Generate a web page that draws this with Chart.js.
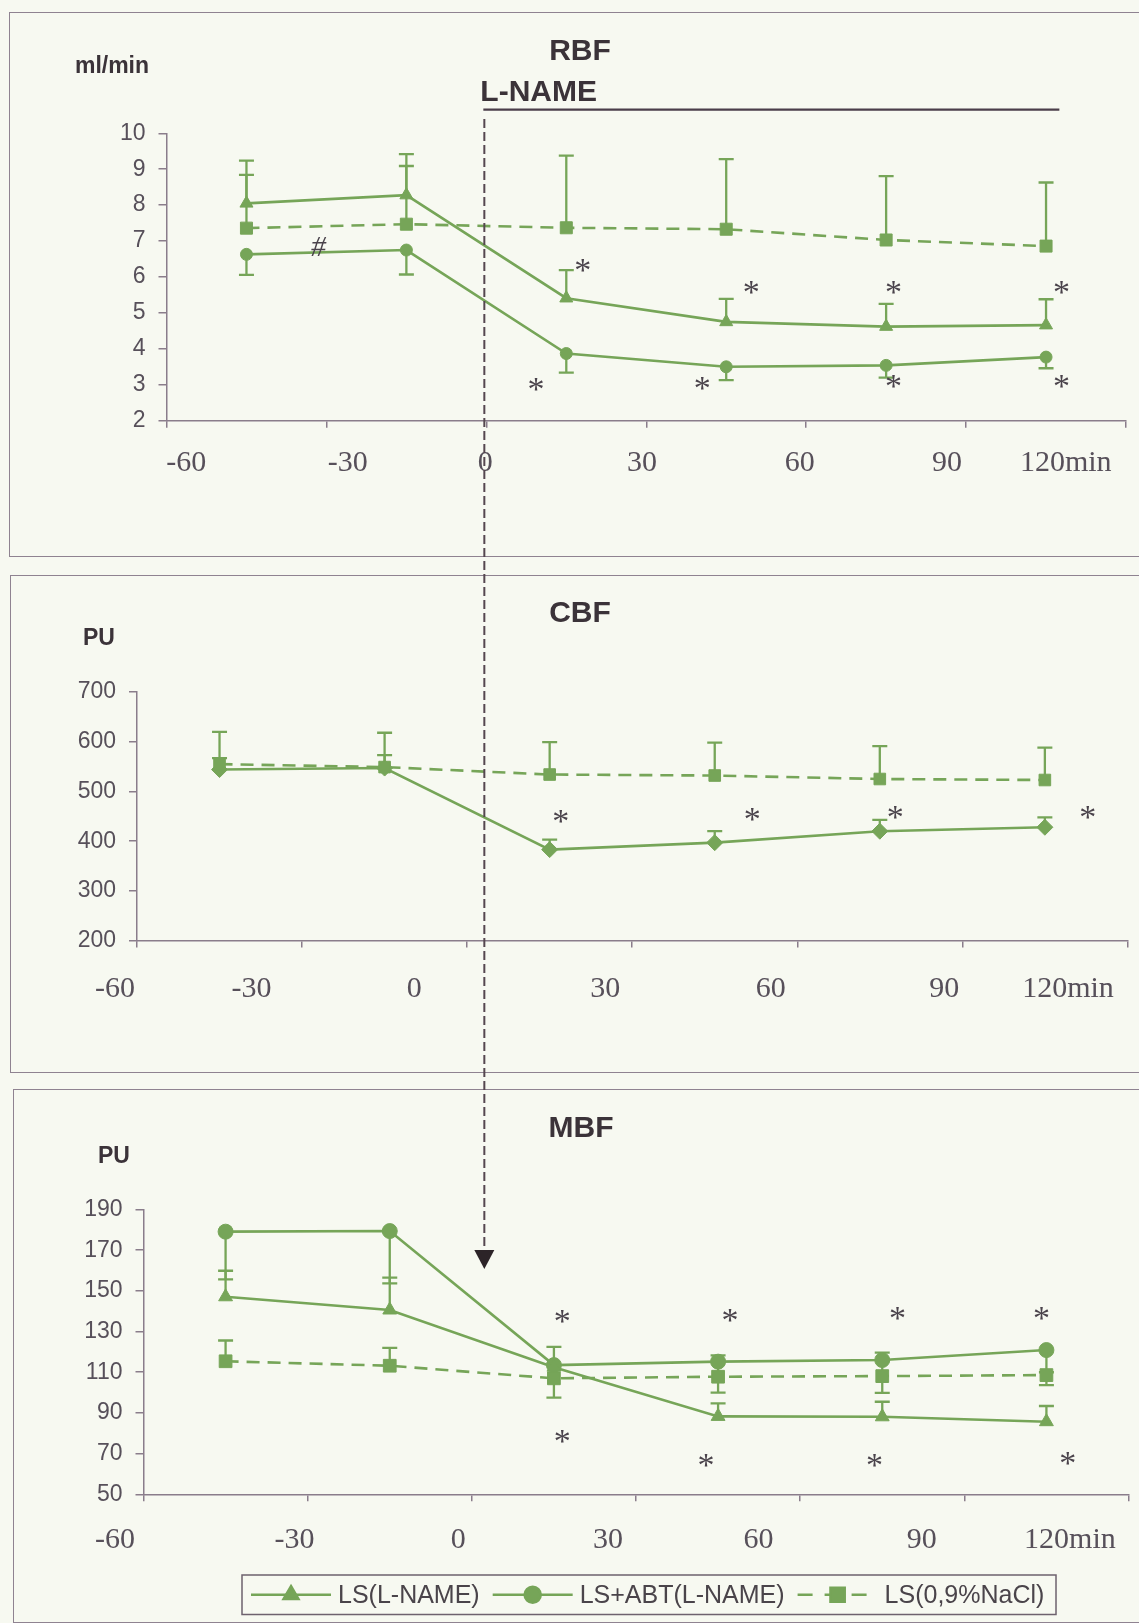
<!DOCTYPE html>
<html>
<head>
<meta charset="utf-8">
<script src="https://cdn.jsdelivr.net/npm/chart.js@4.4.1/dist/chart.umd.min.js"></script>
<style>
  html, body { margin: 0; padding: 0; background: #f7f9f1; }
  #page { position: relative; width: 1139px; height: 1623px; overflow: hidden; background: #f7f9f1; }
  .box { position: absolute; border: 1.5px solid #8f8391; box-sizing: border-box; width: 1200px; }
  canvas { position: absolute; left: 0; }
  .lbl { position: absolute; font-family: "Liberation Sans", Arial, sans-serif; font-weight: bold;
         color: #3b3339; white-space: nowrap; transform: translate(-50%, -50%); line-height: 1; }
</style>
</head>
<body>
<div id="page">
  <div class="box" style="left:9px;top:12px;height:545px;"></div>
  <div class="box" style="left:10px;top:575px;height:498px;"></div>
  <div class="box" style="left:13px;top:1089px;height:534px;"></div>

  <canvas id="rbf" width="1139" height="545" style="top:12px"></canvas>
  <canvas id="cbf" width="1139" height="498" style="top:575px"></canvas>
  <canvas id="mbf" width="1139" height="534" style="top:1089px"></canvas>

  <div class="lbl" style="left:580px;top:50px;font-size:30px;">RBF</div>
  <div class="lbl" style="left:112px;top:65px;font-size:23px;">ml/min</div>
  <div class="lbl" style="left:580px;top:612px;font-size:30px;">CBF</div>
  <div class="lbl" style="left:99px;top:637px;font-size:23px;">PU</div>
  <div class="lbl" style="left:581px;top:1127px;font-size:30px;">MBF</div>
  <div class="lbl" style="left:114px;top:1155px;font-size:23px;">PU</div>

  <canvas id="overlay" width="1139" height="1623" style="top:0;pointer-events:none;"></canvas>
</div>

<script>
// ---- time points (min) and axis labels ----
const minutes = [-45, -15, 15, 45, 75, 105];
const xTickLabels = ['-60', '-30', '0', '30', '60', '90', '120min'];
const seriesNames = ['LS(L-NAME)', 'LS+ABT(L-NAME)', 'LS(0,9%NaCl)'];

// ---- RBF (ml/min): means and error-bar ends ----
const rbfLName   = [8.05, 8.28, 5.41, 4.75, 4.62, 4.66];
const rbfLNameHi = [9.24, 9.42, 6.19, 5.39, 5.25, 5.38];
const rbfAbt     = [6.63, 6.75, 3.87, 3.50, 3.54, 3.77];
const rbfAbtLo   = [6.06, 6.07, 3.34, 3.13, 3.20, 3.46];
const rbfNaCl    = [7.36, 7.47, 7.37, 7.33, 7.03, 6.86];
const rbfNaClHi  = [8.84, 9.09, 9.38, 9.28, 8.81, 8.63];

// ---- CBF (PU) ----
const cbfLName   = [544, 547, 383, 397, 420, 428];
const cbfLNameHi = [567, 573, 403, 420, 443, 448];
const cbfNaCl    = [555, 549, 534, 532, 525, 523];
const cbfNaClHi  = [620, 618, 599, 598, 591, 588];

// ---- MBF (PU) ----
const mbfLName   = [147.1, 140.6, 112.5, 88.3, 88.1, 85.7];
const mbfLNameHi = [159.9, 156.5, 122.5, 94.7, 95.5, 93.4];
const mbfAbt     = [179.1, 179.4, 113.5, 115.2, 116.0, 120.9];
const mbfAbtLo   = [155.7, 153.7, null, null, null, 110.0];
const mbfNaCl    = [115.4, 113.2, 107.0, 107.8, 108.1, 108.6];
const mbfNaClHi  = [125.6, 122.0, null, 118.3, 119.6, null];
const mbfNaClLo  = [null, null, 97.5, 100.0, 99.9, 103.7];

// ---- significance marks (minutes, value) ----
const rbfMarks = [
  {x: 18.1, y: 6.33, t: '*'}, {x: 49.7, y: 5.71, t: '*'}, {x: 76.4, y: 5.71, t: '*'}, {x: 107.9, y: 5.71, t: '*'},
  {x: 9.3, y: 3.0, t: '*'}, {x: 40.5, y: 3.04, t: '*'}, {x: 76.4, y: 3.09, t: '*'}, {x: 107.9, y: 3.09, t: '*'},
  {x: -31.5, y: 6.84, t: '#'}
];
const cbfMarks = [
  {x: 17.0, y: 450, t: '*'}, {x: 51.8, y: 453, t: '*'}, {x: 77.8, y: 457, t: '*'}, {x: 112.8, y: 457, t: '*'}
];
const mbfMarks = [
  {x: 16.5, y: 137.6, t: '*'}, {x: 47.2, y: 138.1, t: '*'}, {x: 77.8, y: 139.0, t: '*'}, {x: 104.1, y: 139.0, t: '*'},
  {x: 16.5, y: 78.5, t: '*'}, {x: 42.8, y: 66.8, t: '*'}, {x: 73.6, y: 66.8, t: '*'}, {x: 108.9, y: 67.8, t: '*'}
];

// L-NAME infusion: start (min), bar end (min)
const lnameStart = 0;
const lnameEnd = 107.5;

// ---- styling ----
const GREEN = '#76a558';
const AXIS = '#8a7d8b';
const TEXT = '#57505a';
const DARK = '#3b3339';
const SANS = '"Liberation Sans", Arial, sans-serif';
const SERIF = '"Liberation Serif", "Times New Roman", serif';
const XH = 10;

function series(name, values, hi, lo, style, radius, dashed) {
  return {
    label: name,
    data: minutes.map((m, i) => ({x: m, y: values[i]})),
    errHi: hi || [], errLo: lo || [],
    borderColor: GREEN, backgroundColor: GREEN,
    borderWidth: 2.6, borderDash: dashed ? [13, 8] : [],
    pointStyle: style, pointRadius: radius, pointBorderWidth: 1,
    pointBackgroundColor: GREEN, pointBorderColor: GREEN,
    tension: 0, fill: false
  };
}

// vertical error bars with caps, drawn beneath the markers
const errorBars = {
  id: 'errorBars',
  beforeDatasetsDraw(chart) {
    const {ctx, scales: {y}} = chart;
    ctx.save();
    ctx.strokeStyle = GREEN;
    ctx.lineWidth = 2.3;
    chart.data.datasets.forEach((ds, di) => {
      const meta = chart.getDatasetMeta(di);
      meta.data.forEach((pt, i) => {
        [ds.errHi[i], ds.errLo[i]].forEach(end => {
          if (end === null || end === undefined) return;
          const ye = y.getPixelForValue(end);
          ctx.beginPath();
          ctx.moveTo(pt.x, pt.y); ctx.lineTo(pt.x, ye);
          ctx.moveTo(pt.x - 7.5, ye); ctx.lineTo(pt.x + 7.5, ye);
          ctx.stroke();
        });
      });
    });
    ctx.restore();
  }
};

// * and # significance signs
const sigMarks = {
  id: 'sigMarks',
  afterDatasetsDraw(chart, args, opts) {
    const {ctx, scales: {x, y}} = chart;
    ctx.save();
    ctx.fillStyle = '#4a434b';
    ctx.textAlign = 'center';
    ctx.textBaseline = 'alphabetic';
    (opts.items || []).forEach(m => {
      ctx.font = (m.t === '#' ? 'italic 30px ' : '34px ') + SERIF;
      const mt = ctx.measureText(m.t);
      const px = x.getPixelForValue(m.x), py = y.getPixelForValue(m.y);
      ctx.fillText(m.t, px, py + (mt.actualBoundingBoxAscent - mt.actualBoundingBoxDescent) / 2);
    });
    ctx.restore();
  }
};

// time labels under the x axis
const xLabels = {
  id: 'xLabels',
  afterDraw(chart, args, opts) {
    const {ctx, scales: {x}, chartArea} = chart;
    ctx.save();
    ctx.font = '30px ' + SERIF;
    ctx.fillStyle = TEXT;
    ctx.textAlign = 'center';
    ctx.textBaseline = 'middle';
    xTickLabels.forEach((t, i) => {
      ctx.fillText(t, x.getPixelForValue(opts.at[i]), chartArea.bottom + opts.dy);
    });
    ctx.restore();
  }
};

// L-NAME bar above the RBF plot
const lnameBar = {
  id: 'lnameBar',
  afterDraw(chart, args, opts) {
    if (!opts.show) return;
    const {ctx, scales: {x, y}} = chart;
    const x0 = x.getPixelForValue(lnameStart), x1 = x.getPixelForValue(lnameEnd);
    const yl = y.getPixelForValue(10.66);
    ctx.save();
    ctx.strokeStyle = '#4b3e4a';
    ctx.lineWidth = 2.2;
    ctx.beginPath(); ctx.moveTo(x0 - 3, yl); ctx.lineTo(x1, yl); ctx.stroke();
    ctx.font = 'bold 30px ' + SANS;
    ctx.fillStyle = DARK;
    ctx.textAlign = 'left';
    ctx.textBaseline = 'middle';
    ctx.fillText('L-NAME', x0 - 6, y.getPixelForValue(11.14));
    ctx.restore();
  }
};

function drawMarker(ctx, style, r, cx, cy) {
  Chart.helpers.drawPoint(ctx, {pointStyle: style, radius: r, rotation: 0, borderWidth: 1}, cx, cy);
}

// boxed legend in the MBF panel
const boxLegend = {
  id: 'boxLegend',
  afterDraw(chart, args, opts) {
    if (!opts.show) return;
    const ctx = chart.ctx;
    const bx = opts.left, by = opts.top, bw = opts.width, bh = opts.height;
    const cy = by + bh / 2;
    ctx.save();
    ctx.strokeStyle = '#6e626e';
    ctx.lineWidth = 1.5;
    ctx.strokeRect(bx, by, bw, bh);
    ctx.font = '25px ' + SANS;
    ctx.textBaseline = 'middle';
    ctx.textAlign = 'left';
    const items = [
      {name: seriesNames[0], style: 'triangle', r: 8.5, dash: []},
      {name: seriesNames[1], style: 'circle', r: 8, dash: []},
      {name: seriesNames[2], style: 'rect', r: 10, dash: [15, 12]}
    ];
    let cx = bx + 9;
    items.forEach(it => {
      const len = 80;
      ctx.strokeStyle = GREEN; ctx.fillStyle = GREEN; ctx.lineWidth = 2.6;
      ctx.setLineDash(it.dash);
      ctx.beginPath(); ctx.moveTo(cx, cy); ctx.lineTo(cx + len, cy); ctx.stroke();
      ctx.setLineDash([]);
      drawMarker(ctx, it.style, it.r, cx + len / 2, cy);
      cx += len + 7;
      ctx.fillStyle = '#4a444a';
      ctx.fillText(it.name, cx, cy + 1);
      cx += ctx.measureText(it.name).width + 13;
    });
    ctx.restore();
  }
};

function makePanel(p) {
  return new Chart(document.getElementById(p.id), {
    type: 'line',
    data: {datasets: p.datasets},
    plugins: [errorBars, sigMarks, xLabels, lnameBar, boxLegend],
    options: {
      responsive: false,
      animation: false,
      events: [],
      layout: {padding: {
        left: 0,
        right: 1139 - p.axisRight,
        top: p.plotTop - p.top,
        bottom: p.top + p.height - p.plotBottom - XH
      }},
      plugins: {
        legend: {display: false},
        tooltip: {enabled: false},
        sigMarks: {items: p.marks},
        xLabels: {at: p.labelAt, dy: p.labelDy},
        lnameBar: {show: !!p.lname},
        boxLegend: p.legend || {show: false}
      },
      scales: {
        x: {
          type: 'linear', min: -60, max: 120,
          ticks: {display: false, stepSize: 30},
          grid: {display: true, drawOnChartArea: false, drawTicks: true, tickLength: 7, color: AXIS, lineWidth: 1.5},
          border: {display: true, color: AXIS, width: 1.5},
          afterFit: s => { s.height = XH; }
        },
        y: {
          type: 'linear', min: p.yMin, max: p.yMax,
          ticks: {stepSize: p.yStep, font: {family: SANS, size: 23}, color: TEXT, padding: 13},
          grid: {display: true, drawOnChartArea: false, drawTicks: true, tickLength: 8, color: AXIS, lineWidth: 1.5},
          border: {display: true, color: AXIS, width: 1.5},
          afterFit: s => { s.width = p.axisLeft; }
        }
      }
    }
  });
}

const rbfChart = makePanel({
  id: 'rbf', top: 12, height: 545,
  axisLeft: 166.5, axisRight: 1126, plotTop: 133.3, plotBottom: 420.7,
  yMin: 2, yMax: 10, yStep: 1,
  datasets: [
    series(seriesNames[2], rbfNaCl, rbfNaClHi, null, 'rect', 8.5, true),
    series(seriesNames[0], rbfLName, rbfLNameHi, null, 'triangle', 7.5, false),
    series(seriesNames[1], rbfAbt, null, rbfAbtLo, 'circle', 6, false)
  ],
  marks: rbfMarks,
  labelAt: [-56.3, -26, -0.2, 29.2, 58.8, 86.4, 108.7], labelDy: 42,
  lname: true
});

const cbfChart = makePanel({
  id: 'cbf', top: 575, height: 498,
  axisLeft: 137, axisRight: 1127.4, plotTop: 692, plotBottom: 940.6,
  yMin: 200, yMax: 700, yStep: 100,
  datasets: [
    series(seriesNames[2], cbfNaCl, cbfNaClHi, null, 'rect', 8.2, true),
    series(seriesNames[0], cbfLName, cbfLNameHi, null, 'rectRot', 8, false)
  ],
  marks: cbfMarks,
  labelAt: [-64, -39.2, -9.6, 25.1, 55.2, 86.7, 109.2], labelDy: 49
});

const mbfChart = makePanel({
  id: 'mbf', top: 1089, height: 534,
  axisLeft: 143.5, axisRight: 1128.5, plotTop: 1209.5, plotBottom: 1494.3,
  yMin: 50, yMax: 190, yStep: 20,
  datasets: [
    series(seriesNames[2], mbfNaCl, mbfNaClHi, mbfNaClLo, 'rect', 9, true),
    series(seriesNames[0], mbfLName, mbfLNameHi, null, 'triangle', 8, false),
    series(seriesNames[1], mbfAbt, null, mbfAbtLo, 'circle', 7.5, false)
  ],
  marks: mbfMarks,
  labelAt: [-65.2, -32.4, -2.5, 24.9, 52.4, 82.2, 109.3], labelDy: 46,
  legend: {show: true, left: 242, top: 486, width: 814, height: 39.5}
});

// dashed L-NAME marker running from the RBF bar down to the arrowhead in MBF
(function drawInfusionArrow() {
  const ctx = document.getElementById('overlay').getContext('2d');
  const xPage = rbfChart.scales.x.getPixelForValue(lnameStart) - 2;
  const yTop = 12 + rbfChart.scales.y.getPixelForValue(10.4);
  const yTip = 1089 + mbfChart.scales.y.getPixelForValue(160.7);
  const headH = 19, headW = 20;
  ctx.save();
  ctx.strokeStyle = '#55474f';
  ctx.lineWidth = 2;
  ctx.setLineDash([9, 4]);
  ctx.beginPath(); ctx.moveTo(xPage, yTop); ctx.lineTo(xPage, yTip - headH); ctx.stroke();
  ctx.setLineDash([]);
  ctx.fillStyle = '#2c2428';
  ctx.beginPath();
  ctx.moveTo(xPage - headW / 2, yTip - headH);
  ctx.lineTo(xPage + headW / 2, yTip - headH);
  ctx.lineTo(xPage, yTip);
  ctx.closePath(); ctx.fill();
  ctx.restore();
})();
</script>
</body>
</html>
